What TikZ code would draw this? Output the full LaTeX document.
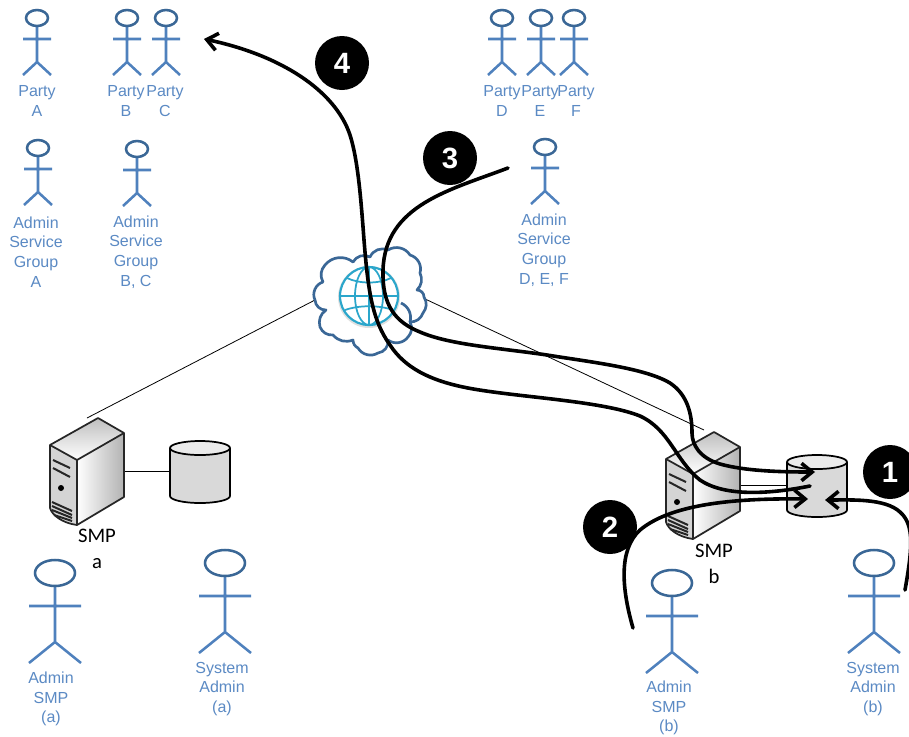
\documentclass[tikz,border=0pt]{standalone}
\usepackage{fontspec}
\setmainfont{Liberation Sans}
\newfontfamily\calfont{Carlito}
\usetikzlibrary{arrows.meta}
\definecolor{actorblue}{HTML}{4F81BD}
\definecolor{headblue}{HTML}{3A6796}
\definecolor{labelblue}{HTML}{5B8AC4}
\definecolor{globeblue}{HTML}{2BA6CB}
\tikzset{
  px/.style={x=0.75pt,y=-0.75pt},
  actorline/.style={draw=actorblue,line width=1.9pt},
  actorhead/.style={draw=headblue,line width=1.9pt,fill=white},
  actorlabel/.style={text=labelblue,font=\fontsize{12}{14.8}\selectfont,align=center,inner sep=0pt},
  smplabel/.style={text=black,font=\calfont\fontsize{15.5}{18}\selectfont,align=center,inner sep=0pt},
  flow/.style={draw=black,line width=2.7pt,line cap=round},
  flowtip/.style={flow,-{Straight Barb[length=8pt,width=13pt,line width=2.7pt]}},
  link/.style={draw=black,line width=0.6pt},
  badge/.style={circle,fill=black,text=white,minimum size=40.5pt,inner sep=0pt,font=\bfseries\fontsize{22}{22}\selectfont},
  srvline/.style={draw=black!85,line width=1.3pt,line join=round},
  dbline/.style={draw=black,line width=1.3pt,fill=black!15},
}
\newcommand{\smallactor}[2]{%
  \begin{scope}[shift={(#1,#2)}]
    \draw[actorline] (0,8) -- (0,44) (-14,21) -- (14,21) (-14,57) -- (0,44) -- (14,57);
    \draw[actorhead] (0,0) ellipse [x radius=11,y radius=8];
  \end{scope}}
\newcommand{\bigactor}[2]{%
  \begin{scope}[shift={(#1,#2)}]
    \draw[actorline] (0,13) -- (0,69) (-26,33) -- (26,33) (-26,90) -- (0,69) -- (26,90);
    \draw[actorhead] (0,0) ellipse [x radius=20,y radius=13];
  \end{scope}}
\newcommand{\server}[2]{%
  \begin{scope}[shift={(#1,#2)}]
    \shade[left color=white,right color=black!30] (77,460) -- (124,433) -- (124,497) -- (77,525) -- cycle;
    \shade[top color=black!25,bottom color=white] (50,445) -- (98,418) -- (124,433) -- (77,460) -- cycle;
    \fill[black!17] (50,445) -- (77,460) -- (77,525) .. controls (62,523) and (52,515) .. (50,508) -- cycle;
    \draw[srvline] (50,445) -- (98,418) -- (124,433) -- (77,460) -- cycle;
    \draw[srvline] (50,445) -- (50,508) .. controls (52,515) and (62,523) .. (77,525) -- (124,497) -- (124,433);
    \draw[srvline] (77,460) -- (77,525);
    \draw[draw=black!85,line width=1.5pt] (53,460) -- (70,468) (53,468) -- (70,477)
      (52,502) -- (72,511) (52,506) -- (72,515) (52,510) -- (72,518) (54,515) -- (72,521);
    \fill[black] (61,488) circle [radius=3];
  \end{scope}}
\newcommand{\database}[2]{%
  \begin{scope}[shift={(#1,#2)}]
    \draw[dbline] (0,0) -- (0,48) arc [start angle=180,end angle=0,x radius=30,y radius=7] -- (60,0);
    \draw[dbline,fill=black!8] (30,0) ellipse [x radius=30,y radius=7];
  \end{scope}}
\begin{document}
\begin{tikzpicture}[px]
\clip (0,0) rectangle (909,736);
\fill[white] (0,0) rectangle (909,736);

% anchor coordinates
\coordinate (cloudL) at (315,300);
\coordinate (cloudR) at (423,298);
\coordinate (smpaTop) at (87,418);
\coordinate (smpbTop) at (704,430);
\coordinate (smpaSide) at (124,471);
\coordinate (dbaSide) at (170,471);
\coordinate (smpbSide) at (741,485);
\coordinate (dbbSide) at (787,485);

\draw[link] (cloudL) -- (smpaTop);
\draw[link] (cloudR) -- (smpbTop);
\draw[link] (smpaSide) -- (dbaSide);

% actors
\smallactor{37}{18}\smallactor{127}{18}\smallactor{166}{18}
\smallactor{502}{18}\smallactor{541}{18}\smallactor{574}{18}
\smallactor{38}{148}\smallactor{137}{149}\smallactor{545}{147}
\bigactor{55}{573}\bigactor{225}{563}\bigactor{672}{583}\bigactor{874}{563}

% labels
\node[actorlabel] (lpa) at (37,101) {Party\\A};
\node[actorlabel] (lpb) at (126,101) {Party\\B};
\node[actorlabel] (lpc) at (165,101) {Party\\C};
\node[actorlabel] (lpd) at (502,101) {Party\\D};
\node[actorlabel] (lpe) at (540,101) {Party\\E};
\node[actorlabel] (lpf) at (576,101) {Party\\F};
\node[actorlabel] (lasa) at (36,252) {Admin\\Service\\Group\\A};
\node[actorlabel] (lasb) at (136,252) {Admin\\Service\\Group\\B, C};
\node[actorlabel] (lasd) at (544,250) {Admin\\Service\\Group\\D, E, F};
\node[actorlabel] (lsmpa) at (51,699) {Admin\\SMP\\(a)};
\node[actorlabel] (lsysa) at (222,689) {System\\Admin\\(a)};
\node[actorlabel] (lsmpb) at (669,708) {Admin\\SMP\\(b)};
\node[actorlabel] (lsysb) at (873,689) {System\\Admin\\(b)};

% cloud and globe
\draw[draw=headblue,line width=2pt,fill=white,line join=round]
  (315,300) to[bend left=50] (323,282) to[bend left=35] (325,265)
  to[bend left=45] (353,262) to[bend left=45] (370,257) to[bend left=45] (388,250)
  to[bend left=45] (410,255) to[bend left=45] (420,273) to[bend left=35] (417,290)
  to[bend left=45] (424,297) to[bend left=35] (423,313) to[bend left=35] (410,322)
  to[bend left=35] (408,337) to[bend left=45] (388,340) to[bend left=45] (378,353)
  to[bend left=45] (358,348) to[bend left=30] (353,340) to[bend left=35] (333,335)
  to[bend left=35] (320,327) to[bend left=35] (326,310) to[bend left=45] cycle;
\draw[draw=headblue,line width=2pt] (401,303) to[bend left=40] (410,322);
\begin{scope}[shift={(369,296)}]
  \fill[black!12] (0,1) circle [radius=31];
  \fill[white] (0,0) circle [radius=29];
  \draw[globeblue,line width=1.6pt] (0,0) circle [radius=29];
  \draw[globeblue,line width=1.3pt] (0,-29) -- (0,29) (-29,0) -- (29,0)
    (0,0) ellipse [x radius=14,y radius=29]
    (-22,-18) .. controls (-10,-12) and (10,-12) .. (22,-18)
    (-24,14) .. controls (-10,9) and (10,9) .. (24,14);
\end{scope}

% servers and databases
\server{0}{0}
\server{616}{14}
\database{170}{448}
\database{787}{462}
\draw[link] (smpbSide) -- (dbbSide);

\node[smplabel] (lsa) at (97,549) {SMP\\[2pt]a};
\node[smplabel] (lsb) at (714,564) {SMP\\[2pt]b};

% flows
\coordinate (f4s) at (810,486); \coordinate (f4e) at (204,39);
\coordinate (f3s) at (508,168); \coordinate (f3e) at (815,472);
\coordinate (f2s) at (633,628); \coordinate (f2e) at (808,499);
\coordinate (f1s) at (905,590); \coordinate (f1e) at (825,500);
\draw[flowtip] (f4s) .. controls (770,494) and (725,497) .. (700,480)
  .. controls (675,460) and (670,430) .. (640,416)
  .. controls (600,400) and (510,397) .. (463,387)
  .. controls (430,380) and (405,368) .. (390,345)
  .. controls (372,320) and (368,290) .. (364,240)
  .. controls (361,200) and (358,160) .. (350,135)
  .. controls (335,90) and (280,55) .. (f4e);
\draw[flowtip] (f3s) .. controls (450,190) and (385,205) .. (383,270)
  .. controls (382,305) and (395,322) .. (420,332)
  .. controls (450,345) and (500,348) .. (547,355)
  .. controls (590,362) and (645,368) .. (670,383)
  .. controls (688,395) and (692,415) .. (692,433)
  .. controls (692,445) and (700,458) .. (720,464)
  .. controls (745,471) and (780,472) .. (f3e);
\draw[flowtip] (f2s) .. controls (622,590) and (618,550) .. (640,530)
  .. controls (670,505) and (730,498) .. (f2e);
\draw[flowtip] (f1s) .. controls (912,550) and (915,525) .. (900,512)
  .. controls (885,498) and (850,500) .. (f1e);

% badges
\node[badge] (b4) at (342,63) {4};
\node[badge] (b3) at (450,158) {3};
\node[badge] (b2) at (610,527) {2};
\node[badge] (b1) at (890,472) {1};
\end{tikzpicture}
\end{document}
